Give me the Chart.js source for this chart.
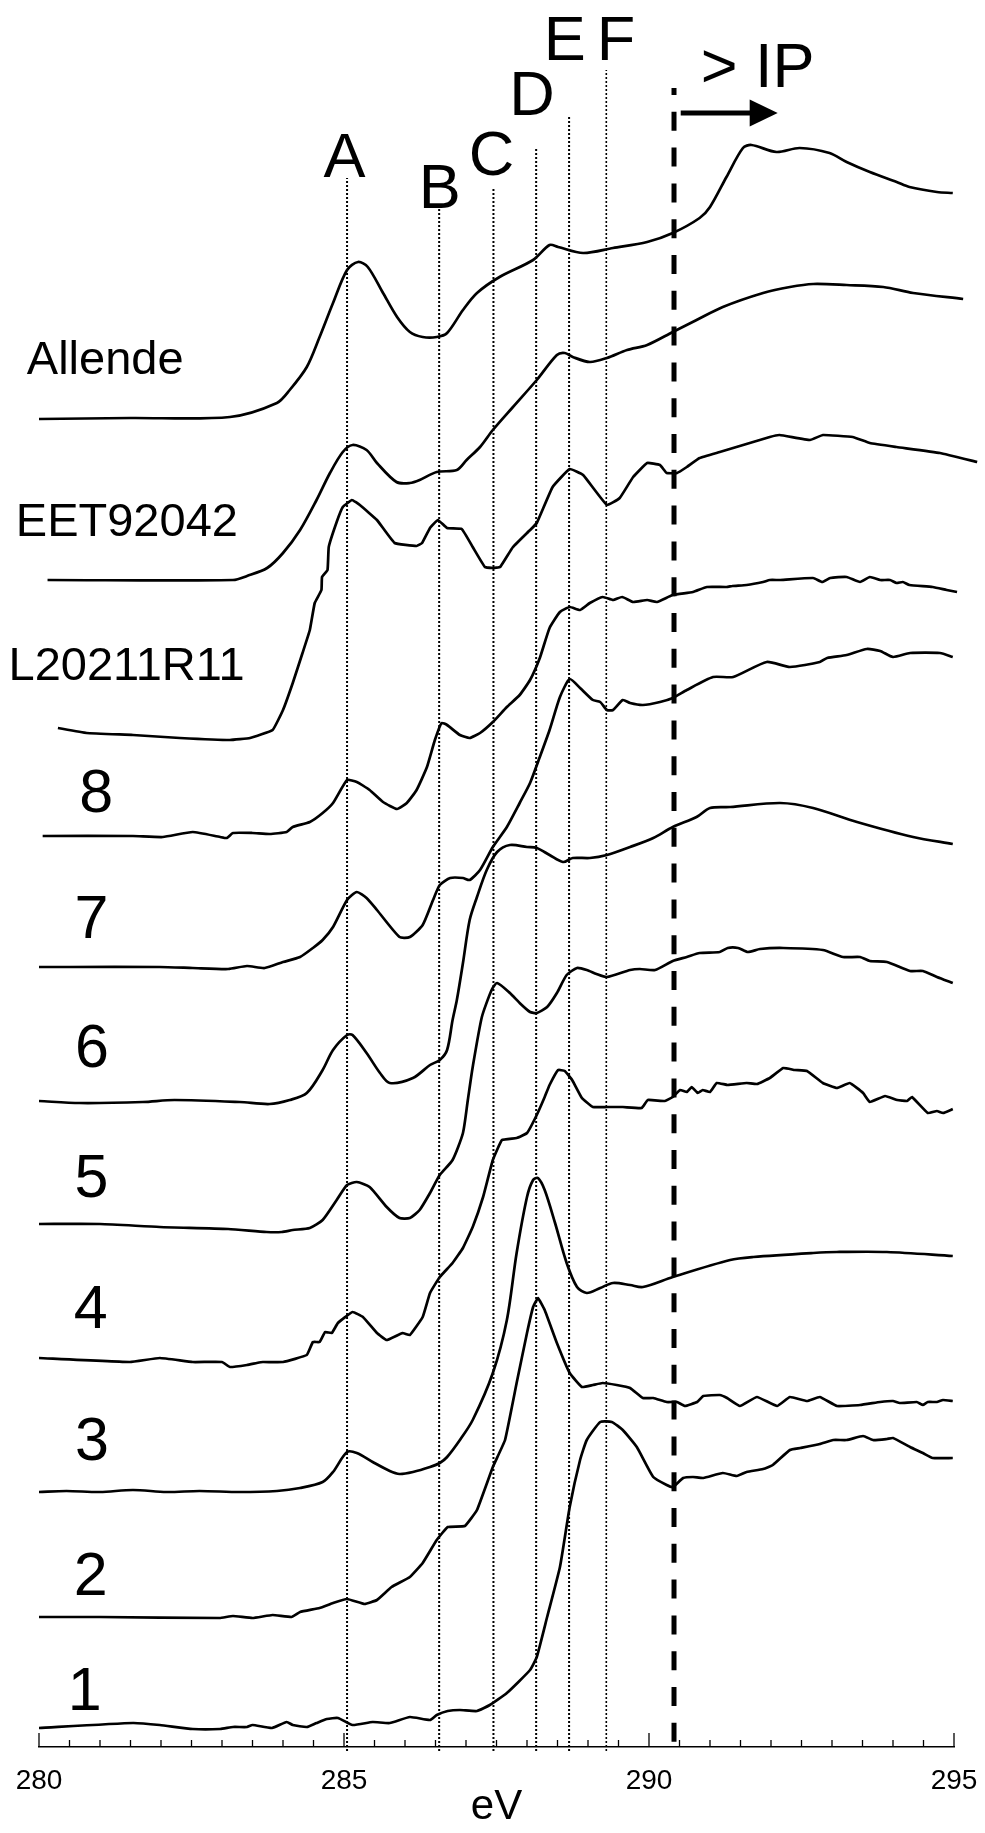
<!DOCTYPE html>
<html>
<head>
<meta charset="utf-8">
<script src="https://cdn.jsdelivr.net/npm/chart.js@4"></script>
<style>
  html, body { margin: 0; padding: 0; background: #fff; overflow: hidden; }
  canvas { display: block; }
</style>
</head>
<body>
<canvas id="chart" width="985" height="1833"></canvas>
<script>
// energies (eV) and stacked intensities (arbitrary units, offset per spectrum)
const allendeE = [280.0, 281.5, 283.13, 283.90, 284.11, 284.39, 284.60, 284.82, 285.05, 285.23, 285.39, 285.64, 285.87, 286.08, 286.29, 286.52, 286.69, 286.95, 287.18, 287.55, 288.10, 288.37, 288.51, 288.92, 289.41, 289.97, 290.39, 290.83, 291.00, 291.27, 291.54, 291.68, 292.09, 292.47, 292.96, 293.24, 293.62, 294.06, 294.27, 294.72, 294.98];
const allendeI = [1328, 1329, 1330, 1344, 1357, 1380, 1410, 1444, 1477, 1485, 1480, 1454, 1430, 1415, 1410, 1410, 1414, 1437, 1454, 1470, 1487, 1502, 1500, 1494, 1499, 1505, 1514, 1529, 1540, 1570, 1599, 1602, 1595, 1599, 1594, 1585, 1575, 1565, 1560, 1555, 1554];

const eetE = [280.14, 283.18, 283.41, 283.74, 284.00, 284.28, 284.55, 284.77, 284.98, 285.14, 285.37, 285.54, 285.86, 286.08, 286.24, 286.52, 286.85, 287.01, 287.23, 287.44, 287.77, 288.16, 288.49, 288.62, 288.75, 289.03, 289.31, 289.64, 289.97, 290.39, 290.78, 291.21, 291.87, 292.31, 292.69, 293.24, 293.84, 294.33, 295.15];
const eetI = [1167, 1167, 1171, 1179, 1194, 1217, 1247, 1274, 1295, 1302, 1297, 1284, 1265, 1264, 1267, 1275, 1277, 1287, 1300, 1317, 1340, 1367, 1392, 1394, 1390, 1385, 1389, 1397, 1402, 1415, 1427, 1440, 1454, 1460, 1463, 1462, 1460, 1454, 1448];

const lE = [280.31, 280.78, 281.54, 282.31, 283.13, 283.46, 283.83, 284.00, 284.16, 284.32, 284.44, 284.52, 284.63, 284.64, 284.73, 284.75, 284.88, 284.98, 285.13, 285.26, 285.54, 285.83, 286.19, 286.28, 286.41, 286.54, 286.69, 286.93, 287.11, 287.31, 287.44, 287.56, 287.77, 288.05, 288.16, 288.42, 288.70, 288.92, 289.31, 289.52, 289.74, 289.97, 290.18, 290.29, 290.46, 290.62, 290.83, 291.16, 291.98, 292.14, 292.64, 292.85, 293.34, 293.62, 294.06, 294.77, 295.38];
const lI = [1019, 1014, 1012, 1009, 1007, 1009, 1017, 1037, 1064, 1094, 1117, 1144, 1157, 1170, 1177, 1200, 1225, 1240, 1247, 1242, 1227, 1204, 1201, 1204, 1219, 1227, 1219, 1218, 1200, 1180, 1179, 1180, 1200, 1217, 1224, 1260, 1278, 1272, 1242, 1249, 1270, 1284, 1282, 1274, 1274, 1280, 1289, 1295, 1310, 1312, 1307, 1312, 1310, 1304, 1300, 1294, 1285];

const s8E = [280.06, 281.54, 282.03, 282.52, 282.97, 283.08, 283.18, 283.50, 283.78, 284.06, 284.16, 284.44, 284.65, 284.82, 285.05, 285.21, 285.42, 285.64, 285.87, 286.03, 286.19, 286.36, 286.49, 286.60, 286.69, 286.90, 287.06, 287.23, 287.44, 287.67, 287.88, 288.05, 288.21, 288.37, 288.54, 288.70, 288.87, 289.03, 289.24, 289.41, 289.56, 289.74, 289.97, 290.13, 290.39, 290.72, 290.95, 291.27, 291.37, 291.60, 291.87, 291.98, 292.15, 292.69, 292.84, 292.97, 293.24, 293.46, 293.62, 293.79, 293.95, 294.06, 294.16, 294.27, 294.65, 294.88, 295.05];
const s8I = [911, 911, 910, 915, 910, 909, 914, 914, 913, 915, 920, 925, 934, 944, 967, 965, 957, 945, 938, 944, 957, 980, 1007, 1024, 1022, 1012, 1009, 1014, 1025, 1040, 1052, 1067, 1089, 1119, 1135, 1140, 1137, 1144, 1150, 1147, 1150, 1145, 1147, 1145, 1152, 1155, 1160, 1160, 1161, 1162, 1165, 1167, 1167, 1169, 1165, 1169, 1170, 1165, 1170, 1167, 1167, 1164, 1165, 1162, 1160, 1157, 1155];

const s7E = [280.00, 280.50, 281.98, 282.52, 283.10, 283.41, 283.70, 284.00, 284.28, 284.49, 284.65, 284.82, 285.05, 285.21, 285.37, 285.54, 285.91, 286.08, 286.29, 286.46, 286.57, 286.74, 286.95, 287.06, 287.23, 287.44, 287.67, 287.88, 288.05, 288.21, 288.37, 288.54, 288.70, 288.87, 289.08, 289.20, 289.31, 289.41, 289.57, 289.69, 289.90, 290.18, 290.39, 290.62, 291.05, 291.38, 291.93, 292.31, 292.80, 292.92, 293.24, 293.57, 293.79, 294.00, 294.28, 294.77, 294.98];
const s7I = [780, 780, 780, 779, 778, 781, 779, 785, 790, 799, 807, 820, 847, 855, 849, 837, 810, 810, 822, 847, 862, 869, 869, 867, 877, 900, 920, 944, 964, 990, 1017, 1050, 1068, 1059, 1047, 1045, 1037, 1037, 1047, 1044, 1042, 1045, 1049, 1057, 1070, 1070, 1085, 1080, 1085, 1089, 1092, 1098, 1096, 1090, 1094, 1094, 1090];

const s6E = [280.00, 280.67, 281.70, 282.22, 283.29, 283.78, 284.11, 284.39, 284.65, 284.82, 285.05, 285.14, 285.37, 285.59, 285.75, 286.13, 286.41, 286.57, 286.69, 286.78, 286.85, 286.95, 287.06, 287.18, 287.34, 287.51, 287.72, 288.00, 288.16, 288.37, 288.59, 288.75, 289.03, 289.31, 289.69, 290.07, 290.39, 290.78, 291.00, 291.33, 292.15, 292.69, 293.41, 294.33, 294.98];
const s6I = [646, 644, 645, 647, 645, 643, 647, 654, 677, 697, 712, 712, 694, 674, 664, 669, 682, 687, 697, 727, 747, 784, 827, 850, 877, 895, 902, 900, 899, 892, 885, 889, 889, 892, 900, 909, 920, 930, 939, 940, 944, 939, 925, 910, 903];

const s5E = [280.00, 281.00, 281.98, 283.10, 283.73, 283.98, 284.16, 284.44, 284.65, 284.88, 285.05, 285.21, 285.42, 285.70, 285.91, 286.08, 286.24, 286.41, 286.57, 286.78, 286.95, 287.03, 287.11, 287.26, 287.42, 287.51, 287.72, 287.88, 288.05, 288.16, 288.33, 288.49, 288.65, 288.82, 288.98, 289.14, 289.31, 289.69, 289.85, 290.10, 290.39, 290.62, 290.83, 291.16, 291.29, 291.46, 291.62, 291.82, 292.20, 292.85, 293.18, 293.46, 293.62, 293.90, 294.28, 294.49, 294.72, 294.98];
const s5I = [523, 523, 520, 518, 515, 515, 517, 519, 527, 547, 562, 565, 560, 540, 529, 529, 537, 554, 572, 587, 614, 647, 680, 730, 757, 764, 754, 744, 735, 734, 740, 754, 772, 779, 777, 773, 770, 777, 778, 777, 786, 790, 794, 795, 799, 799, 795, 798, 799, 797, 790, 790, 786, 785, 776, 776, 770, 764];

const s4E = [280.00, 281.49, 281.98, 282.52, 283.00, 283.13, 283.41, 283.57, 283.67, 284.00, 284.39, 284.49, 284.60, 284.69, 284.80, 284.90, 285.14, 285.31, 285.54, 285.70, 285.96, 286.08, 286.29, 286.41, 286.57, 286.78, 286.95, 287.11, 287.28, 287.44, 287.59, 287.83, 288.00, 288.16, 288.29, 288.37, 288.51, 288.62, 288.74, 288.90, 289.08, 289.31, 289.57, 289.88, 289.98, 290.26, 290.39, 290.51, 290.62, 290.70, 290.80, 290.88, 291.00, 291.11, 291.29, 291.60, 291.77, 291.98, 292.20, 292.39, 292.59, 292.85, 293.08, 293.29, 293.51, 293.62, 293.87, 294.07, 294.23, 294.31, 294.57, 294.72, 294.82, 294.98];
const s4I = [389, 385, 389, 385, 385, 380, 382, 384, 385, 385, 392, 405, 405, 415, 414, 424, 435, 430, 414, 407, 414, 412, 430, 454, 470, 484, 499, 520, 550, 587, 607, 609, 614, 632, 650, 662, 677, 676, 667, 649, 640, 640, 640, 639, 647, 646, 650, 657, 655, 660, 654, 657, 655, 664, 662, 664, 663, 669, 679, 677, 676, 664, 659, 664, 654, 645, 651, 647, 646, 650, 634, 636, 634, 638];

const s3E = [280.00, 280.45, 281.00, 281.54, 282.09, 282.63, 283.29, 283.90, 284.28, 284.65, 284.82, 285.05, 285.21, 285.47, 285.75, 285.91, 286.13, 286.41, 286.57, 286.69, 286.90, 287.11, 287.44, 287.67, 287.83, 288.00, 288.10, 288.18, 288.29, 288.46, 288.65, 288.82, 288.98, 289.20, 289.41, 289.69, 289.90, 290.39, 291.33, 291.71, 292.69, 293.08, 293.90, 294.98];
const s3I = [255, 256, 255, 257, 255, 256, 255, 256, 259, 265, 275, 295, 294, 285, 276, 273, 275, 280, 284, 290, 307, 327, 374, 427, 494, 550, 567, 569, 557, 524, 484, 460, 454, 459, 464, 462, 460, 470, 487, 490, 494, 495, 495, 491];

const s2E = [280.00, 281.00, 282.96, 283.18, 283.50, 283.83, 284.14, 284.28, 284.60, 284.82, 285.05, 285.34, 285.54, 285.78, 286.08, 286.29, 286.52, 286.70, 286.98, 287.18, 287.44, 287.64, 287.83, 288.00, 288.10, 288.18, 288.29, 288.49, 288.70, 288.90, 289.08, 289.24, 289.47, 289.69, 289.90, 290.07, 290.29, 290.46, 290.59, 290.79, 290.89, 291.16, 291.28, 291.49, 291.77, 292.10, 292.31, 292.59, 292.80, 293.08, 293.46, 293.79, 294.00, 294.11, 294.39, 294.49, 294.57, 294.72, 294.82, 294.98];
const s2I = [130, 130, 129, 131, 129, 132, 130, 135, 139, 144, 148, 143, 147, 160, 170, 184, 207, 220, 221, 237, 280, 307, 364, 414, 440, 449, 437, 404, 374, 360, 362, 364, 362, 359, 349, 349, 345, 345, 341, 345, 351, 352, 349, 341, 350, 341, 350, 346, 350, 341, 342, 345, 346, 344, 345, 342, 345, 345, 347, 346];

const s1E = [280.00, 281.54, 281.98, 282.52, 282.97, 283.18, 283.41, 283.50, 283.82, 284.06, 284.16, 284.39, 284.55, 284.72, 284.90, 285.14, 285.47, 285.75, 286.08, 286.41, 286.52, 286.70, 286.90, 287.18, 287.39, 287.67, 288.05, 288.16, 288.33, 288.54, 288.70, 288.87, 288.98, 289.20, 289.39, 289.57, 289.80, 290.07, 290.29, 290.39, 290.56, 290.72, 290.89, 291.21, 291.44, 291.60, 291.87, 292.03, 292.31, 292.48, 292.80, 293.02, 293.24, 293.51, 293.67, 293.90, 294.00, 294.28, 294.49, 294.65, 294.98];
const s1I = [19, 24, 22, 18, 18, 20, 20, 22, 19, 25, 22, 20, 24, 28, 29, 22, 25, 24, 30, 27, 32, 36, 37, 36, 42, 54, 77, 90, 130, 180, 240, 287, 307, 325, 325, 317, 300, 270, 262, 260, 269, 270, 269, 274, 271, 275, 278, 282, 297, 299, 303, 307, 307, 311, 307, 308, 309, 300, 294, 289, 289];

// curve labels: text, energy of left edge, baseline intensity
const curveNames = ['Allende', 'EET92042', 'L20211R11', '8', '7', '6', '5', '4', '3', '2', '1'];
const nameE = [279.80, 279.62, 279.50, 280.66, 280.58, 280.59, 280.58, 280.57, 280.59, 280.57, 280.47];
const nameV = [1373, 1211, 1067, 935, 809, 680, 550, 419, 287, 152, 37];

// feature lines A-F
const peakNames = ['A', 'B', 'C', 'D', 'E', 'F'];
const peakE = [285.05, 286.56, 287.45, 288.15, 288.69, 289.30];
const peakTop = [1569, 1539, 1560, 1599, 1632, 1677];
const peakLabelE = [285.01, 286.57, 287.42, 288.08, 288.62, 289.46];
const peakLabelV = [1570, 1539, 1572, 1632, 1687, 1687];

// ionisation potential marker
const ipE = 290.41;
const ipTop = 1659;
const ipBottom = 4;
const arrowFromE = 290.52;
const arrowToE = 292.11;
const arrowV = 1634;
const ipLabelE = 291.78;
const ipLabelV = 1660;

const FONT = "'Liberation Sans', Arial, Helvetica, sans-serif";
Chart.defaults.font.family = FONT;

function pts(E, I) {
    return E.map((e, i) => ({ x: e, y: I[i] }));
}

function spectrum(E, I, tension) {
    return {
        data: pts(E, I),
        borderColor: '#000',
        borderWidth: 2.7,
        pointRadius: 0,
        tension: tension,
        fill: false,
        clip: false
    };
}

let datasets = [
    spectrum(allendeE, allendeI, 0.3),
    spectrum(eetE, eetI, 0.3),
    spectrum(lE, lI, 0.1),
    spectrum(s8E, s8I, 0.15),
    spectrum(s7E, s7I, 0.2),
    spectrum(s6E, s6I, 0.3),
    spectrum(s5E, s5I, 0.2),
    spectrum(s4E, s4I, 0.1),
    spectrum(s3E, s3I, 0.3),
    spectrum(s2E, s2I, 0.1),
    spectrum(s1E, s1I, 0.15)
];

// dotted feature lines
peakE.forEach((e, i) => {
    datasets.push({
        data: [{ x: e, y: -4 }, { x: e, y: peakTop[i] }],
        borderColor: '#000',
        borderWidth: i === 5 ? 1.6 : 2,
        borderDash: [2, 2],
        pointRadius: 0,
        clip: false
    });
});

// dashed IP line
datasets.push({
    data: [{ x: ipE, y: ipTop }, { x: ipE, y: ipBottom }],
    borderColor: '#000',
    borderWidth: 5,
    borderDash: [19, 16.8],
    borderDashOffset: 12,
    borderCapStyle: 'butt',
    pointRadius: 0,
    clip: false
});

const decorations = {
    id: 'decorations',
    beforeDraw(chart) {
        const ctx = chart.ctx;
        ctx.save();
        ctx.fillStyle = '#fff';
        ctx.fillRect(0, 0, chart.width, chart.height);
        ctx.restore();
    },
    afterDraw(chart) {
        const ctx = chart.ctx;
        const xs = chart.scales.x;
        const ys = chart.scales.y;
        const base = ys.getPixelForValue(0);
        ctx.save();
        ctx.strokeStyle = '#000';
        ctx.fillStyle = '#000';

        // inward ticks
        ctx.lineWidth = 1.3;
        for (let v = 280; v <= 295; v += 0.5) {
            const px = xs.getPixelForValue(v);
            const len = v % 5 === 0 ? 14 : 7;
            ctx.beginPath();
            ctx.moveTo(px, base);
            ctx.lineTo(px, base - len);
            ctx.stroke();
        }

        // spectrum names
        ctx.textAlign = 'left';
        ctx.textBaseline = 'alphabetic';
        curveNames.forEach((t, i) => {
            ctx.font = (t.length > 1 ? 47 : 61) + 'px ' + FONT;
            ctx.fillText(t, xs.getPixelForValue(nameE[i]), ys.getPixelForValue(nameV[i]));
        });

        // feature letters
        ctx.textAlign = 'center';
        ctx.font = '63px ' + FONT;
        peakNames.forEach((t, i) => {
            ctx.fillText(t, xs.getPixelForValue(peakLabelE[i]), ys.getPixelForValue(peakLabelV[i]));
        });
        ctx.fillText('> IP', xs.getPixelForValue(ipLabelE), ys.getPixelForValue(ipLabelV));

        // arrow
        const ax0 = xs.getPixelForValue(arrowFromE);
        const ax1 = xs.getPixelForValue(arrowToE);
        const ay = ys.getPixelForValue(arrowV);
        ctx.lineWidth = 5;
        ctx.beginPath();
        ctx.moveTo(ax0, ay);
        ctx.lineTo(ax1 - 26, ay);
        ctx.stroke();
        ctx.beginPath();
        ctx.moveTo(ax1, ay);
        ctx.lineTo(ax1 - 28, ay - 13.5);
        ctx.lineTo(ax1 - 28, ay + 13.5);
        ctx.closePath();
        ctx.fill();

        ctx.restore();
    }
};

new Chart(document.getElementById('chart'), {
    type: 'line',
    data: { datasets: datasets },
    plugins: [decorations],
    options: {
        responsive: false,
        animation: false,
        devicePixelRatio: 1,
        events: [],
        layout: { padding: { left: 39, right: 31, top: 0, bottom: 0 } },
        plugins: { legend: { display: false }, tooltip: { enabled: false } },
        scales: {
            x: {
                type: 'linear',
                min: 280,
                max: 295,
                afterFit(scale) {
                    scale.height = 86;
                    scale.paddingLeft = 0;
                    scale.paddingRight = 0;
                },
                grid: { display: false },
                border: { display: true, color: '#000', width: 1.4 },
                ticks: {
                    stepSize: 0.5,
                    autoSkip: false,
                    maxRotation: 0,
                    padding: 9,
                    color: '#000',
                    font: { size: 28 },
                    callback: (v) => (v % 5 === 0 ? String(v) : '')
                },
                title: {
                    display: true,
                    text: 'eV',
                    color: '#000',
                    font: { size: 42 },
                    padding: { top: 0, bottom: 0 }
                }
            },
            y: {
                type: 'linear',
                display: false,
                min: 0,
                max: 1747
            }
        }
    }
});
</script>
</body>
</html>
